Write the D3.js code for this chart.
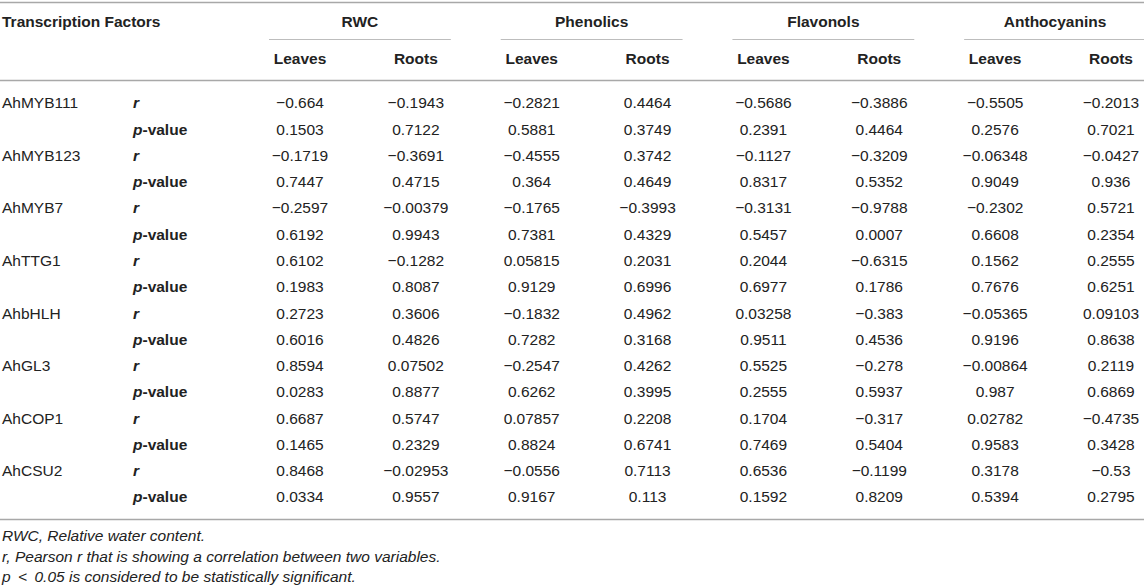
<!DOCTYPE html>
<html>
<head>
<meta charset="utf-8">
<script src="https://cdn.jsdelivr.net/npm/d3@7"></script>
<style>
  body { margin: 0; background: #fff; }
  text { font-family: "Liberation Sans", Arial, sans-serif; font-size: 15.5px; fill: #222; }
</style>
</head>
<body>
<div id="chart"></div>
<script>
'use strict';

// Table content
var genes = ['AhMYB111', 'AhMYB123', 'AhMYB7', 'AhTTG1', 'AhbHLH', 'AhGL3', 'AhCOP1', 'AhCSU2'];
var groups = ['RWC', 'Phenolics', 'Flavonols', 'Anthocyanins'];
var tissues = ['Leaves', 'Roots'];

// r values per gene, columns: RWC L/R, Phenolics L/R, Flavonols L/R, Anthocyanins L/R
var rValues = [
  ['−0.664', '−0.1943', '−0.2821', '0.4464', '−0.5686', '−0.3886', '−0.5505', '−0.2013'],
  ['−0.1719', '−0.3691', '−0.4555', '0.3742', '−0.1127', '−0.3209', '−0.06348', '−0.0427'],
  ['−0.2597', '−0.00379', '−0.1765', '−0.3993', '−0.3131', '−0.9788', '−0.2302', '0.5721'],
  ['0.6102', '−0.1282', '0.05815', '0.2031', '0.2044', '−0.6315', '0.1562', '0.2555'],
  ['0.2723', '0.3606', '−0.1832', '0.4962', '0.03258', '−0.383', '−0.05365', '0.09103'],
  ['0.8594', '0.07502', '−0.2547', '0.4262', '0.5525', '−0.278', '−0.00864', '0.2119'],
  ['0.6687', '0.5747', '0.07857', '0.2208', '0.1704', '−0.317', '0.02782', '−0.4735'],
  ['0.8468', '−0.02953', '−0.0556', '0.7113', '0.6536', '−0.1199', '0.3178', '−0.53']
];

var pValues = [
  ['0.1503', '0.7122', '0.5881', '0.3749', '0.2391', '0.4464', '0.2576', '0.7021'],
  ['0.7447', '0.4715', '0.364', '0.4649', '0.8317', '0.5352', '0.9049', '0.936'],
  ['0.6192', '0.9943', '0.7381', '0.4329', '0.5457', '0.0007', '0.6608', '0.2354'],
  ['0.1983', '0.8087', '0.9129', '0.6996', '0.6977', '0.1786', '0.7676', '0.6251'],
  ['0.6016', '0.4826', '0.7282', '0.3168', '0.9511', '0.4536', '0.9196', '0.8638'],
  ['0.0283', '0.8877', '0.6262', '0.3995', '0.2555', '0.5937', '0.987', '0.6869'],
  ['0.1465', '0.2329', '0.8824', '0.6741', '0.7469', '0.5404', '0.9583', '0.3428'],
  ['0.0334', '0.9557', '0.9167', '0.113', '0.1592', '0.8209', '0.5394', '0.2795']
];

var footnotes = [
  'RWC, Relative water content.',
  'r, Pearson r that is showing a correlation between two variables.',
  'p \u2009<\u2009 0.05 is considered to be statistically significant.'
];

var width = 1144, height = 588;

var svg = d3.select('#chart').append('svg')
  .attr('width', width)
  .attr('height', height);

// column keys like "RWC|Leaves"
var colKeys = [];
groups.forEach(function(g) {
  tissues.forEach(function(t) { colKeys.push(g + '|' + t); });
});

var x = d3.scalePoint().domain(colKeys).range([300, 1111]);

// row keys: gene|r, gene|p
var rowKeys = [];
genes.forEach(function(g) {
  rowKeys.push(g + '|r');
  rowKeys.push(g + '|p');
});
var y = d3.scalePoint().domain(rowKeys).range([103, 497]);

// rules
function hline(x1, x2, yy, color, w) {
  svg.append('line')
    .attr('x1', x1).attr('x2', x2)
    .attr('y1', yy).attr('y2', yy)
    .attr('stroke', color)
    .attr('stroke-width', w);
}
hline(0, width, 2.5, '#a8a8a8', 1.5);
hline(0, width, 80.5, '#a8a8a8', 1.5);
hline(0, width, 519.5, '#a8a8a8', 1.5);

// header
svg.append('text')
  .attr('x', 2).attr('y', 22)
  .attr('dy', '0.35em')
  .style('font-weight', 'bold')
  .text('Transcription Factors');

groups.forEach(function(g) {
  var xl = x(g + '|Leaves'), xr = x(g + '|Roots');
  svg.append('text')
    .attr('x', (xl + xr) / 2 + 2).attr('y', 22)
    .attr('dy', '0.35em')
    .attr('text-anchor', 'middle')
    .style('font-weight', 'bold')
    .text(g);
  hline(xl - 31, Math.min(xr + 35, width), 39.5, '#bdbdbd', 1);
});

svg.selectAll('text.sub')
  .data(colKeys)
  .enter().append('text')
  .attr('class', 'sub')
  .attr('x', function(d) { return x(d); })
  .attr('y', 59)
  .attr('dy', '0.35em')
  .attr('text-anchor', 'middle')
  .style('font-weight', 'bold')
  .text(function(d) { return d.split('|')[1]; });

// gene names
svg.selectAll('text.gene')
  .data(genes)
  .enter().append('text')
  .attr('class', 'gene')
  .attr('x', 2)
  .attr('y', function(d) { return y(d + '|r'); })
  .attr('dy', '0.35em')
  .text(function(d) { return d; });

// stat labels
genes.forEach(function(g) {
  svg.append('text')
    .attr('x', 133).attr('y', y(g + '|r'))
    .attr('dy', '0.35em')
    .style('font-weight', 'bold')
    .style('font-style', 'italic')
    .text('r');
  var t = svg.append('text')
    .attr('x', 133).attr('y', y(g + '|p'))
    .attr('dy', '0.35em')
    .style('font-weight', 'bold');
  t.append('tspan').style('font-style', 'italic').text('p');
  t.append('tspan').text('-value');
});

// values
var cells = [];
genes.forEach(function(g, i) {
  colKeys.forEach(function(c, j) {
    cells.push({ row: g + '|r', col: c, v: rValues[i][j] });
    cells.push({ row: g + '|p', col: c, v: pValues[i][j] });
  });
});

svg.selectAll('text.cell')
  .data(cells)
  .enter().append('text')
  .attr('class', 'cell')
  .attr('x', function(d) { return x(d.col); })
  .attr('y', function(d) { return y(d.row); })
  .attr('dy', '0.35em')
  .attr('text-anchor', 'middle')
  .text(function(d) { return d.v; });

// footnotes
svg.selectAll('text.note')
  .data(footnotes)
  .enter().append('text')
  .attr('class', 'note')
  .attr('x', 2)
  .attr('y', function(d, i) { return 536 + i * 20.5; })
  .attr('dy', '0.35em')
  .style('font-style', 'italic')
  .text(function(d) { return d; });
</script>
</body>
</html>
